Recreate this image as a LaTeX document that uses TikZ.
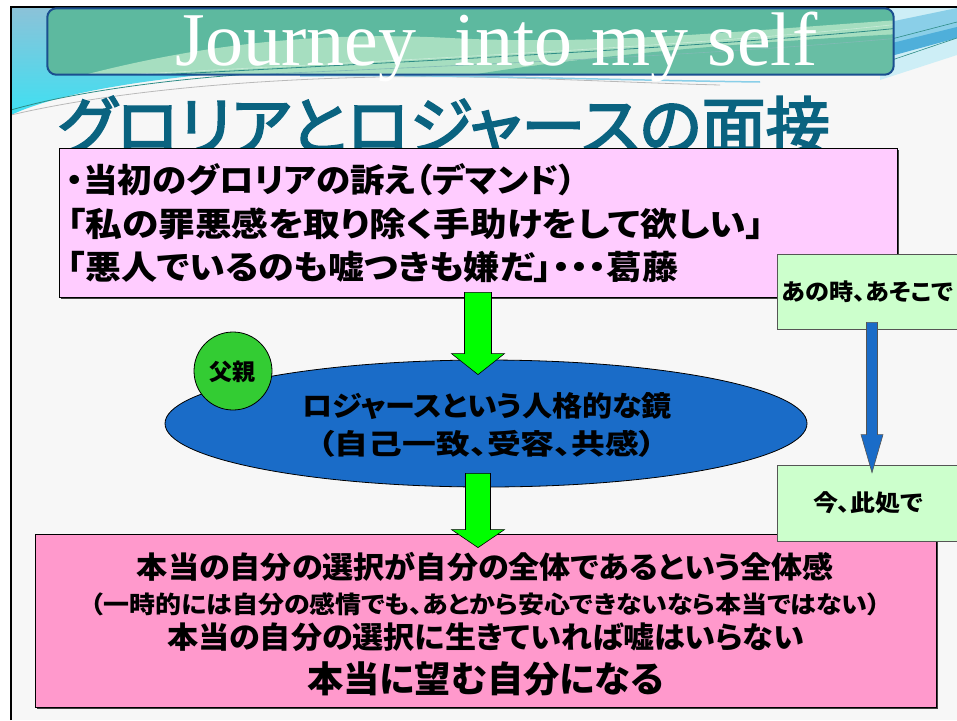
\documentclass[tikz,border=0pt]{standalone}
\usepackage{fontspec}
\usepackage{graphicx}
\usetikzlibrary{shapes.geometric,shadows,calc}
\setmainfont{Liberation Serif}
\newfontfamily\jp[RawFeature=+palt]{Noto Sans CJK JP}
\newfontfamily\jpmed[RawFeature=+palt, FakeBold=3]{Noto Sans CJK JP}
\newcommand\fitw[2]{\resizebox{#1}{\height}{#2}}
\newcommand\fsz[1]{\fontsize{#1pt}{#1pt}\selectfont}
\definecolor{slidebg}{HTML}{F7F7F7}
\definecolor{tlgray}{HTML}{8CC2D8}
\definecolor{tlcyan}{HTML}{3EE0F2}
\definecolor{trlight}{HTML}{CDEEF6}
\definecolor{trmid}{HTML}{8ACFE8}
\definecolor{trblue}{HTML}{4FAFDA}
\definecolor{bannerteal}{HTML}{5DB99F}
\definecolor{bannerlight}{HTML}{A6DEC0}
\definecolor{bannerdark}{HTML}{2E8C86}
\definecolor{bannerborder}{HTML}{1A4F8F}
\definecolor{headcol}{HTML}{0A6380}
\definecolor{pinkA}{HTML}{FFCCFF}
\definecolor{pinkB}{HTML}{FF99CC}
\definecolor{lgreen}{HTML}{CCFFCC}
\definecolor{agreen}{HTML}{00FF00}
\definecolor{cgreen}{HTML}{33CC33}
\definecolor{ellblue}{HTML}{1A6CC8}
\definecolor{boxedge}{HTML}{555555}
\newcommand\barrow[6]{%
  \path[#1] ($(#2)+(-#4,0)$) -- ($(#3)+(-#4,-#6)$) -- ($(#3)+(-#5,-#6)$) -- (#3)
    -- ($(#3)+(#5,-#6)$) -- ($(#3)+(#4,-#6)$) -- ($(#2)+(#4,0)$) -- cycle;}
\tikzset{
  jtxt/.style={inner sep=0pt, text=black, font=\jp\bfseries},
  boxpink/.style={draw=black, line width=0.8pt, inner sep=0pt,
    drop shadow={shadow xshift=1.5pt, shadow yshift=-1.5pt, fill=black!75, opacity=1}},
  boxgreen/.style={draw=boxedge, fill=lgreen, line width=0.8pt, inner sep=0pt,
    minimum width=190pt},
  garrow/.style={fill=agreen, draw=black, line width=0.6pt},
  barrowst/.style={fill=ellblue, draw=boxedge, line width=0.6pt},
}
\begin{document}
\begin{tikzpicture}[x=1pt,y=-1pt]
\useasboundingbox (0,0) rectangle (957,720);
\clip (0,0) rectangle (957,720);
\fill[white] (0,0) rectangle (957,720);
\fill[slidebg] (11,7) rectangle (957,720);
% background swooshes
\shade[top color=tlgray, bottom color=tlcyan] (11,7) -- (260,7) -- (260,70)
  .. controls (150,78) and (60,92) .. (11,115) -- cycle;
\draw[bannerdark, line width=0.8pt] (11,110) .. controls (80,90) and (200,74) .. (330,70);
\draw[gray!55, line width=0.8pt] (11,115) .. controls (100,94) and (230,80) .. (380,77)
  .. controls (500,75) and (600,82) .. (720,85);
\draw[trmid, line width=1.5pt] (300,76) .. controls (450,74) and (600,80) .. (760,82);
\fill[trlight] (880,7) -- (957,7) -- (957,55) -- (880,80) -- cycle;
\fill[trmid] (880,24) -- (957,8) -- (957,30) -- (880,52) -- cycle;
\fill[trblue] (880,46) -- (957,27) -- (957,38) -- (880,59) -- cycle;
\draw[bannerdark, line width=0.6pt] (880,64) -- (957,38);
\draw[bannerdark, line width=0.6pt] (880,42) -- (957,22);
% frame
\draw[black, line width=2pt] (11,720) -- (11,7) -- (957,7);
% banner
\node[fill=bannerteal, minimum width=846pt, minimum height=66pt, inner sep=0pt,
  rounded corners=9pt] (ban) at (470.5,41.5) {};
\begin{scope}
  \clip[rounded corners=9pt] (ban.north west) rectangle (ban.south east);
  \fill[bannerlight] (40,82) -- (80,76) .. controls (180,50) and (300,30) .. (450,38)
    .. controls (600,46) and (750,30) .. (900,20) -- (900,82) -- cycle;
  \fill[bannerteal!85!bannerlight] (430,82) .. controls (550,60) and (700,45) .. (900,34) -- (900,82) -- cycle;
  \draw[bannerdark, line width=0.8pt] (60,80) .. controls (400,62) and (700,48) .. (900,28);
  \draw[bannerdark!60, line width=0.6pt] (150,79) .. controls (450,66) and (700,56) .. (900,38);
  \draw[bannerlight!60!white, line width=0.6pt] (100,76) .. controls (400,60) and (700,46) .. (900,24);
\end{scope}
\draw[bannerborder, line width=2pt, rounded corners=9pt] (ban.north west) rectangle (ban.south east);
\node[inner sep=0pt, text=white, font=\fsz{76}, anchor=base] (title) at (496.5,65) {Journey~~into my self};
% heading
\node[inner sep=0pt, text=headcol, font=\jpmed\fsz{64}] (head) at (444,126)
  {\fitw{772pt}{グロリアとロジャースの面接}};
% box 1
\node[boxpink, fill=pinkA, minimum width=838pt, minimum height=149pt] (box1) at (478,222.5) {};
\node[jtxt, font=\jp\bfseries\fsz{33}, anchor=west] (l11) at (66,180) {\fitw{510pt}{・当初のグロリアの訴え（デマンド）}};
\node[jtxt, font=\jp\bfseries\fsz{33}, anchor=west] (l12) at (67,224) {\fitw{697pt}{「私の罪悪感を取り除く手助けをして欲しい」}};
\node[jtxt, font=\jp\bfseries\fsz{33}, anchor=west] (l13) at (67,267) {\fitw{611pt}{「悪人でいるのも嘘つきも嫌だ」・・・葛藤}};
% right box A
\node[boxgreen, minimum height=75pt] (boxA) at (872,291.5) {};
\node[jtxt, font=\jp\bfseries\fsz{23}] (tA) at (867.5,292) {\fitw{171pt}{あの時、あそこで}};
% ellipse and circle
\node[ellipse, draw=black, fill=ellblue, line width=0.8pt, minimum width=642pt,
  minimum height=127pt, inner sep=0pt] (ell) at (486,423.5) {};
\node[circle, draw=black, fill=cgreen, line width=0.8pt, minimum size=78pt, inner sep=0pt] (fa) at (233,371) {};
\node[jtxt, font=\jp\bfseries\fsz{23}] (fat) at (232,372) {父親};
\node[jtxt, font=\jp\bfseries\fsz{28}] (e1) at (487,406) {\fitw{370pt}{ロジャースという人格的な鏡}};
\node[jtxt, font=\jp\bfseries\fsz{28}] (e2) at (487,444) {\fitw{338pt}{（自己一致、受容、共感）}};
% box 2
\node[boxpink, fill=pinkB, minimum width=901pt, minimum height=173pt] (box2) at (485.5,620.5) {};
\node[jtxt, font=\jp\bfseries\fsz{30}] (m1) at (485.5,567) {\fitw{697pt}{本当の自分の選択が自分の全体であるという全体感}};
\node[jtxt, font=\jp\bfseries\fsz{24}] (m2) at (485.5,604) {\fitw{790pt}{（一時的には自分の感情でも、あとから安心できないなら本当ではない）}};
\node[jtxt, font=\jp\bfseries\fsz{30}] (m3) at (485.5,637) {\fitw{637pt}{本当の自分の選択に生きていれば嘘はいらない}};
\node[jtxt, font=\jp\bfseries\fsz{36}] (m4) at (485.5,679) {\fitw{356pt}{本当に望む自分になる}};
% right box B
\node[boxgreen, minimum height=76pt] (boxB) at (872,503) {};
\node[jtxt, font=\jp\bfseries\fsz{23}] (tB) at (868,503) {\fitw{110pt}{今、此処で}};
% arrows
\coordinate (a1s) at ($(box1.south)+(0,-5)$);
\coordinate (a1e) at ($(box1.south |- ell.north)+(0,15)$);
\coordinate (a2s) at ($(ell.south -| box1.south)+(0,-14)$);
\coordinate (a2e) at ($(box2.north -| box1.south)+(0,14)$);
\coordinate (b1s) at ($(boxA.south)+(0,-7)$);
\coordinate (b1e) at ($(boxB.north)+(0,8)$);
\barrow{garrow}{a1s}{a1e}{13.5}{26.5}{21}
\barrow{garrow}{a2s}{a2e}{12.5}{26.5}{18}
\barrow{barrowst}{b1s}{b1e}{5.5}{11}{38}
\end{tikzpicture}
\end{document}
